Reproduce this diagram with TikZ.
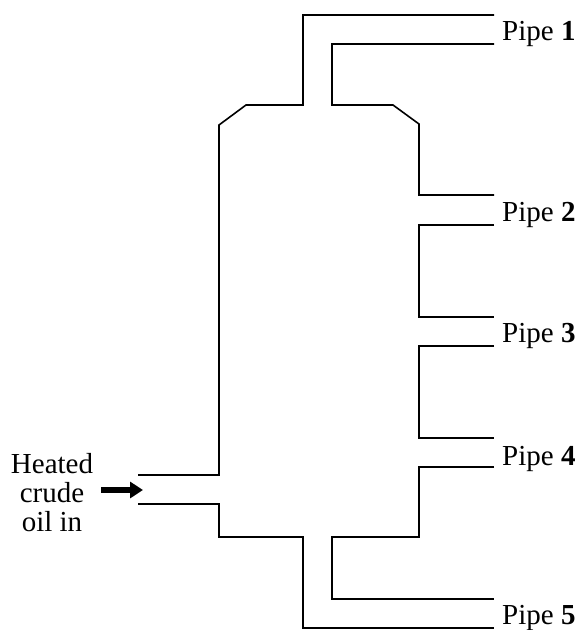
\documentclass[tikz,border=0pt]{standalone}
\usepackage{fontspec}
\setmainfont{Liberation Serif}
\usetikzlibrary{positioning,arrows.meta}
\begin{document}
\begin{tikzpicture}[x=1pt,y=-1pt,
    wall/.style={line width=1.6pt},
    pipelabel/.style={font=\fontsize{29}{29}\selectfont, anchor=base west, inner sep=0pt},
    arr/.style={-{Triangle[length=13pt,width=16pt]}, line width=6pt}]
  \useasboundingbox (0,0) rectangle (580,630);
  % outline
  \coordinate (p1top) at (494,15);
  \coordinate (p1low) at (494,44);
  \coordinate (p2top) at (494,195);
  \coordinate (p2low) at (494,225);
  \coordinate (p3top) at (494,317);
  \coordinate (p3low) at (494,346);
  \coordinate (p4top) at (494,438);
  \coordinate (p4low) at (494,467);
  \coordinate (p5top) at (494,599);
  \coordinate (p5low) at (494,628);
  \coordinate (intop) at (138,475);
  \coordinate (inlow) at (138,504);
  \draw[wall] (intop) -- (219,475) -- (219,125) -- (246,105) -- (303,105) -- (303,15) -- (p1top);
  \draw[wall] (p1low) -- (332,44) -- (332,105) -- (393,105) -- (419,124) -- (419,195) -- (p2top);
  \draw[wall] (p2low) -- (419,225) -- (419,317) -- (p3top);
  \draw[wall] (p3low) -- (419,346) -- (419,438) -- (p4top);
  \draw[wall] (p4low) -- (419,467) -- (419,537) -- (332,537) -- (332,599) -- (p5top);
  \draw[wall] (inlow) -- (219,504) -- (219,537) -- (303,537) -- (303,628) -- (p5low);
  % labels
  \node[pipelabel] (pipe1) at (502,40) {Pipe \textbf{1}};
  \node[pipelabel] (pipe2) at (502,221) {Pipe \textbf{2}};
  \node[pipelabel] (pipe3) at (502,342) {Pipe \textbf{3}};
  \node[pipelabel] (pipe4) at (502,465) {Pipe \textbf{4}};
  \node[pipelabel] (pipe5) at (502,624) {Pipe \textbf{5}};
  \node[font=\fontsize{29}{29}\selectfont, align=center, inner sep=0pt, anchor=base] (oilin) at (52,531) {Heated\\crude\\oil in};
  \coordinate (arrowstart) at (101,490);
  \coordinate (arrowend) at (143,490);
  \draw[arr] (arrowstart) -- (arrowend);
\end{tikzpicture}
\end{document}
